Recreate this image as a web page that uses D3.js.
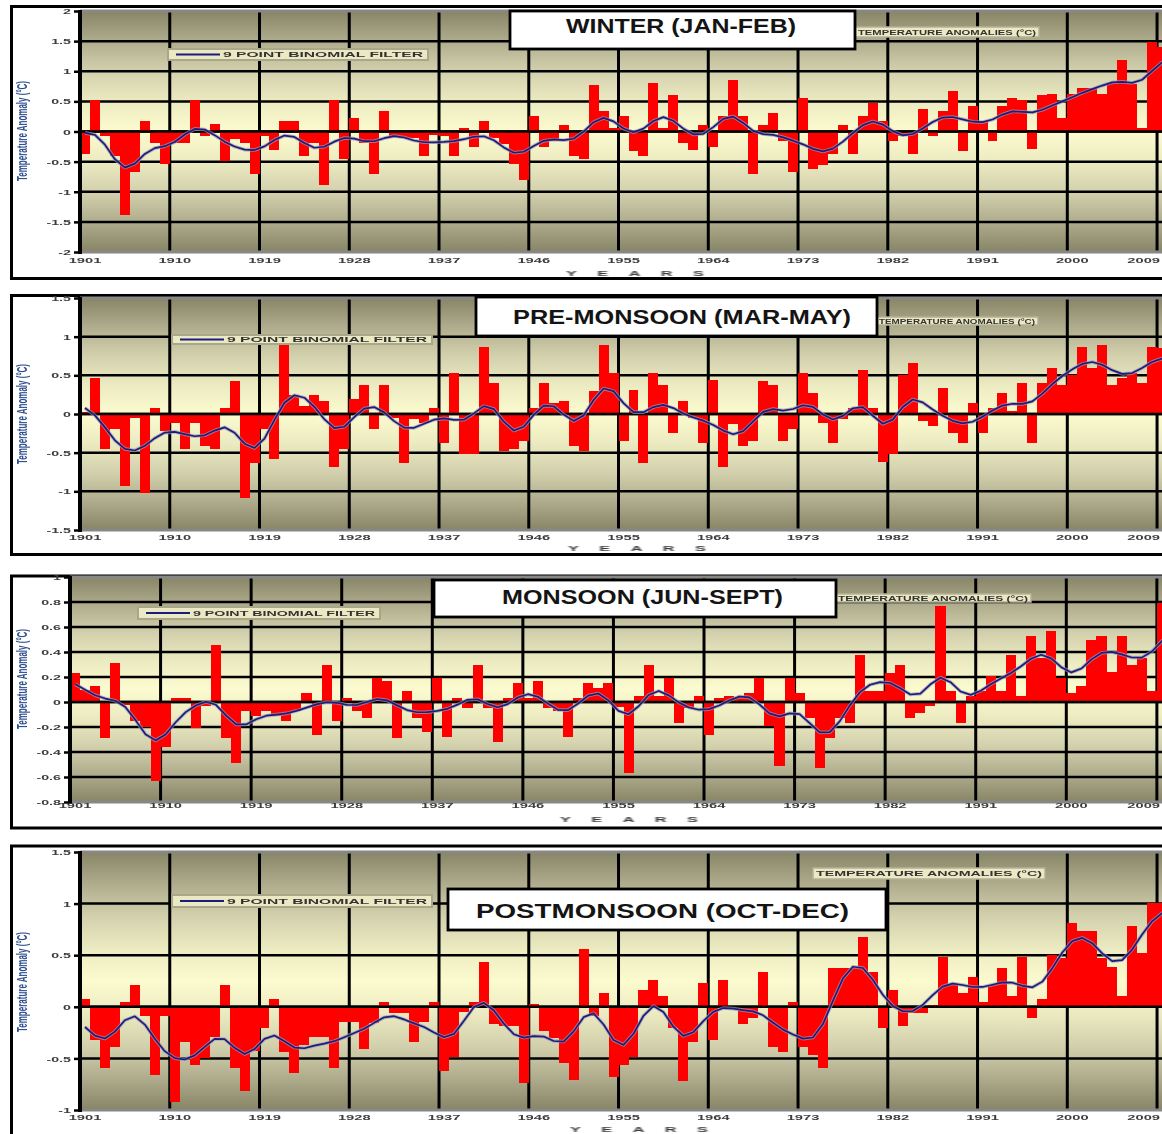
<!DOCTYPE html>
<html>
<head>
<meta charset="utf-8">
<script src="https://cdn.jsdelivr.net/npm/d3@7"></script>
<style>
  html, body { margin: 0; padding: 0; background: #fff; overflow: hidden; }
  svg { display: block; font-family: "Liberation Sans", Arial, sans-serif; }
</style>
</head>
<body>
<svg id="chart" width="1210" height="1134"></svg>
<script>
// Seasonal all-India temperature anomalies (°C), 1901–2010
const years = d3.range(1901, 2011);
const tickYears = [1901, 1910, 1919, 1928, 1937, 1946, 1955, 1964, 1973, 1982, 1991, 2000, 2009];

const winter = [
  -0.37, 0.52, -0.08, -0.41, -1.39, -0.67, 0.17, -0.19, -0.54, -0.19,
  -0.19, 0.52, -0.08, 0.13, -0.49, -0.12, -0.19, -0.71, -0.08, -0.30,
  0.17, 0.17, -0.41, -0.19, -0.89, 0.52, -0.45, 0.22, -0.19, -0.71,
  0.34, -0.08, -0.10, -0.10, -0.41, -0.05, -0.08, -0.41, 0.05, -0.25,
  0.17, -0.10, -0.20, -0.54, -0.80, 0.26, -0.25, -0.16, 0.10, -0.41,
  -0.46, 0.77, 0.34, 0.05, 0.26, -0.33, -0.41, 0.81, 0.05, 0.60,
  -0.19, -0.30, 0.10, -0.25, 0.26, 0.85, 0.26, -0.71, 0.10, 0.30,
  -0.16, -0.67, 0.55, -0.63, -0.55, -0.37, 0.10, -0.37, 0.26, 0.48,
  0.17, -0.16, -0.08, -0.37, 0.38, -0.08, 0.34, 0.68, -0.33, 0.42,
  0.17, -0.16, 0.42, 0.55, 0.52, -0.29, 0.60, 0.63, 0.22, 0.63,
  0.73, 0.73, 0.63, 0.80, 1.19, 0.79, 0.05, 1.48, 1.40, 1.10
];

const preMonsoon = [
  0.02, 0.47, -0.45, -0.19, -0.93, -0.05, -1.02, 0.08, -0.22, -0.12,
  -0.45, -0.12, -0.42, -0.45, 0.08, 0.43, -1.08, -0.64, -0.19, -0.58,
  0.89, 0.25, 0.10, 0.25, 0.17, -0.68, -0.45, 0.20, 0.37, -0.19,
  0.37, -0.05, -0.64, -0.07, -0.11, 0.08, -0.38, 0.53, -0.52, -0.52,
  0.87, 0.40, -0.48, -0.45, -0.35, 0.08, 0.40, 0.14, 0.17, -0.41,
  -0.48, 0.30, 0.89, 0.53, -0.35, 0.31, -0.64, 0.53, 0.37, -0.24,
  0.17, -0.05, -0.38, 0.44, -0.68, -0.13, -0.41, -0.35, 0.43, 0.37,
  -0.35, -0.19, 0.53, 0.27, -0.11, -0.38, -0.07, 0.08, 0.57, 0.08,
  -0.62, -0.52, 0.50, 0.66, -0.09, -0.15, 0.33, -0.25, -0.38, 0.14,
  -0.25, 0.08, 0.27, 0.04, 0.40, -0.38, 0.40, 0.60, 0.37, 0.50,
  0.86, 0.60, 0.89, 0.37, 0.47, 0.53, 0.40, 0.86, 0.85, 0.60
];

const monsoon = [
  0.23, 0.10, 0.13, -0.29, 0.31, -0.02, -0.15, -0.20, -0.63, -0.36,
  0.03, 0.03, -0.21, -0.03, 0.46, -0.29, -0.49, -0.07, -0.11, -0.07,
  -0.11, -0.15, -0.07, 0.07, -0.26, 0.30, -0.15, 0.03, -0.07, -0.13,
  0.19, 0.17, -0.29, 0.09, -0.13, -0.24, 0.19, -0.28, 0.03, -0.05,
  0.30, -0.05, -0.32, 0.03, 0.15, 0.03, 0.17, -0.05, -0.07, -0.28,
  0.03, 0.15, 0.11, 0.15, -0.04, -0.57, 0.05, 0.30, 0.05, 0.19,
  -0.17, -0.05, 0.05, -0.26, 0.03, 0.05, 0.03, 0.07, 0.19, -0.19,
  -0.51, 0.19, 0.07, -0.13, -0.53, -0.29, -0.13, -0.17, 0.38, 0.09,
  0.09, 0.23, 0.30, -0.13, -0.09, -0.03, 0.77, 0.09, -0.17, 0.05,
  0.09, 0.21, 0.09, 0.38, 0.05, 0.53, 0.35, 0.57, 0.19, 0.07,
  0.13, 0.50, 0.53, 0.24, 0.53, 0.30, 0.35, 0.09, 0.79, 0.60
];

const postMonsoon = [
  0.08, -0.32, -0.59, -0.39, 0.05, 0.21, -0.09, -0.66, -0.09, -0.92,
  -0.34, -0.56, -0.50, -0.29, 0.21, -0.59, -0.82, -0.43, -0.21, 0.08,
  -0.44, -0.64, -0.37, -0.29, -0.29, -0.59, -0.15, -0.15, -0.41, -0.16,
  0.05, -0.06, -0.06, -0.34, -0.15, 0.05, -0.62, -0.49, -0.05, 0.05,
  0.43, -0.17, -0.19, -0.19, -0.74, 0.03, -0.23, -0.30, -0.54, -0.71,
  0.56, -0.09, 0.13, -0.68, -0.56, -0.49, 0.16, 0.26, 0.10, -0.21,
  -0.72, -0.34, 0.23, -0.32, 0.26, -0.02, -0.17, -0.11, 0.34, -0.39,
  -0.44, 0.05, -0.39, -0.47, -0.59, 0.38, 0.38, 0.38, 0.68, 0.34,
  -0.21, 0.16, -0.19, -0.06, -0.06, 0.02, 0.48, 0.21, 0.13, 0.29,
  0.05, 0.21, 0.38, 0.10, 0.48, -0.11, 0.08, 0.50, 0.47, 0.81,
  0.73, 0.73, 0.47, 0.39, 0.10, 0.78, 0.52, 1.01, 1.01, 0.90
];

const winterTicks = [-2, -1.5, -1, -0.5, 0, 0.5, 1, 1.5, 2];
const preMonsoonTicks = [-1.5, -1, -0.5, 0, 0.5, 1, 1.5];
const monsoonTicks = [-0.8, -0.6, -0.4, -0.2, 0, 0.2, 0.4, 0.6, 0.8, 1];
const postMonsoonTicks = [-1, -0.5, 0, 0.5, 1, 1.5];

const titles = ["WINTER (JAN-FEB)", "PRE-MONSOON (MAR-MAY)", "MONSOON (JUN-SEPT)", "POSTMONSOON (OCT-DEC)"];
const filterLabel = "9 POINT BINOMIAL FILTER";
const barLabel = "TEMPERATURE ANOMALIES (°C)";
const yTitle = "Temperature Anomaly (°C)";
const xTitle = "YEARS";

// 9-point binomial smoothing, weights renormalised near the ends
const filterWeights = [1, 8, 28, 56, 70, 56, 28, 8, 1];
function binomialFilter(vals) {
  const h = (filterWeights.length - 1) / 2;
  return vals.map((_, i) => {
    let s = 0, w = 0;
    filterWeights.forEach((wk, k) => {
      const j = i + k - h;
      if (j >= 0 && j < vals.length) { s += wk * vals[j]; w += wk; }
    });
    return s / w;
  });
}

// visible page width; the last year label is kept inside it
const pageRight = 1160;

// Layout of the four stacked panels
const layout = [
  { values: winter, ticks: winterTicks, frameY: 6.5, frameH: 272, x0: 80, x1: 1177, y0: 11, y1: 252,
    box: [510, 11, 345, 38], boxText: [566, 33, 230, 21],
    leg1: [168, 49, 260, 11], leg2: [855, 27, 184, 10],
    xLabelY: 263, yearsX: 566, yearsY: 276, yTitleY: 131 },
  { values: preMonsoon, ticks: preMonsoonTicks, frameY: 295.5, frameH: 259, x0: 80, x1: 1177, y0: 298, y1: 530,
    box: [476, 297, 401, 39], boxText: [513, 324, 338, 21],
    leg1: [172, 335, 260, 9], leg2: [876, 317, 162, 8],
    xLabelY: 540, yearsX: 568, yearsY: 551, yTitleY: 414 },
  { values: monsoon, ticks: monsoonTicks, frameY: 576, frameH: 252, x0: 70, x1: 1177, y0: 577, y1: 802,
    box: [434, 580, 402, 37], boxText: [502, 604, 281, 20],
    leg1: [138, 607, 242, 12], leg2: [835, 594, 196, 8],
    xLabelY: 808, yearsX: 560, yearsY: 822, yTitleY: 679 },
  { values: postMonsoon, ticks: postMonsoonTicks, frameY: 846, frameH: 310, x0: 80, x1: 1177, y0: 852, y1: 1110,
    box: [448, 889, 438, 41], boxText: [476, 918, 373, 21],
    leg1: [172, 895, 260, 12], leg2: [813, 868, 232, 11],
    xLabelY: 1120, yearsX: 570, yearsY: 1132, yTitleY: 982 }
];

const svg = d3.select("#chart");
const defs = svg.append("defs");
const grad = defs.append("linearGradient").attr("id", "plotBg")
  .attr("x1", 0).attr("y1", 0).attr("x2", 0).attr("y2", 1);
[[0, "#878566"], [0.12, "#adab8b"], [0.25, "#d3d1ad"], [0.38, "#edebc1"], [0.5, "#fcfbcf"],
 [0.62, "#edebc1"], [0.75, "#d3d1ad"], [0.88, "#adab8b"], [1, "#878566"]]
  .forEach(([o, c]) => grad.append("stop").attr("offset", o).attr("stop-color", c));
defs.append("filter").attr("id", "soft").attr("x", "-10%").attr("y", "-50%").attr("width", "120%").attr("height", "200%")
  .append("feGaussianBlur").attr("stdDeviation", 0.35);

function drawPanel(p, title) {
  const g = svg.append("g");
  const x = d3.scaleBand().domain(years).range([p.x0, p.x1]).padding(0);
  const y = d3.scaleLinear().domain([p.ticks[0], p.ticks[p.ticks.length - 1]]).range([p.y1, p.y0]);
  const data = p.values.map((v, i) => ({ year: years[i], v }));
  const smooth = binomialFilter(p.values).map((v, i) => ({ year: years[i], v }));

  // outer frame
  g.append("rect").attr("x", 11.5).attr("y", p.frameY).attr("width", 1200).attr("height", p.frameH)
    .attr("fill", "#fff").attr("stroke", "#000").attr("stroke-width", 3);

  // plot area
  g.append("rect").attr("x", p.x0).attr("y", p.y0).attr("width", p.x1 - p.x0).attr("height", p.y1 - p.y0)
    .attr("fill", "url(#plotBg)");

  // gridlines
  g.append("g").selectAll("line").data(tickYears.slice(1)).join("line")
    .attr("x1", d => x(d)).attr("x2", d => x(d)).attr("y1", p.y0).attr("y2", p.y1)
    .attr("stroke", "#000").attr("stroke-width", 3);
  g.append("g").selectAll("line").data(p.ticks.slice(1, -1)).join("line")
    .attr("x1", p.x0).attr("x2", p.x1).attr("y1", d => y(d)).attr("y2", d => y(d))
    .attr("stroke", "#000").attr("stroke-width", 2.5);

  // anomaly bars
  g.append("g").attr("shape-rendering", "crispEdges").selectAll("rect").data(data).join("rect")
    .attr("x", d => x(d.year)).attr("width", x.bandwidth())
    .attr("y", d => Math.min(y(d.v), y(0))).attr("height", d => Math.abs(y(d.v) - y(0)))
    .attr("fill", "#ff0000");

  // zero line
  g.append("line").attr("x1", p.x0).attr("x2", p.x1).attr("y1", y(0)).attr("y2", y(0))
    .attr("stroke", "#000").attr("stroke-width", 2.5);

  // plot border (top / bottom)
  [p.y0, p.y1].forEach(yy => g.append("line").attr("x1", p.x0).attr("x2", p.x1).attr("y1", yy).attr("y2", yy)
    .attr("stroke", "#878787").attr("stroke-width", 3));

  // smoothed curve
  const line = d3.line().x(d => x(d.year) + x.bandwidth() / 2).y(d => y(d.v)).curve(d3.curveLinear);
  g.append("path").datum(smooth).attr("d", line).attr("fill", "none")
    .attr("stroke", "#9d9bb5").attr("stroke-width", 3.6).attr("stroke-opacity", 0.7).attr("stroke-linejoin", "round");
  g.append("path").datum(smooth).attr("d", line).attr("fill", "none")
    .attr("stroke", "#1d1b7c").attr("stroke-width", 1.7).attr("stroke-linejoin", "round");

  // value axis
  g.append("line").attr("x1", p.x0).attr("x2", p.x0).attr("y1", p.y0 - 1).attr("y2", p.y1 + 2)
    .attr("stroke", "#000").attr("stroke-width", 4);
  const ya = g.append("g").attr("transform", `translate(${p.x0},0)`)
    .call(d3.axisLeft(y).tickValues(p.ticks).tickSize(6).tickFormat(d => String(d)));
  ya.select(".domain").remove();
  ya.selectAll(".tick line").attr("stroke", "#000").attr("stroke-width", 2.5);
  ya.selectAll(".tick text").attr("x", 0).attr("dy", null).attr("font-size", 7.5)
    .attr("fill", "#3c3c3c").attr("font-weight", "bold").attr("text-anchor", "end")
    .attr("transform", "translate(-9,2.6) scale(1.9,1)").attr("filter", "url(#soft)");

  // year axis labels
  const xa = g.append("g").attr("transform", `translate(0,${p.y1})`)
    .call(d3.axisBottom(x).tickValues(tickYears).tickSize(0));
  xa.select(".domain").remove();
  xa.selectAll(".tick text").attr("y", 0).attr("dy", null).attr("font-size", 7)
    .attr("fill", "#3c3c3c").attr("font-weight", "bold").attr("text-anchor", "middle")
    .attr("transform", `translate(0,${p.xLabelY - p.y1}) scale(2.1,1)`).attr("filter", "url(#soft)");
  // last label right-aligned at the page edge
  const lastYear = tickYears[tickYears.length - 1];
  const lastX = x(lastYear) + x.bandwidth() / 2;
  xa.selectAll(".tick").filter(d => d === lastYear).select("text")
    .attr("text-anchor", "end")
    .attr("transform", `translate(${pageRight - lastX},${p.xLabelY - p.y1}) scale(2.1,1)`);

  // axis titles
  g.append("text").attr("transform", `translate(${p.yearsX},${p.yearsY}) scale(2.5,1)`)
    .attr("font-size", 6.5).attr("font-weight", "bold").attr("letter-spacing", 8.2)
    .attr("fill", "#3c3c3c").attr("filter", "url(#soft)").text(xTitle);
  g.append("text").attr("transform", `translate(27,${p.yTitleY}) scale(2,1) rotate(-90)`)
    .attr("text-anchor", "middle").attr("font-size", 7).attr("font-weight", "bold")
    .attr("fill", "#2f4f8f").attr("textLength", 100).attr("lengthAdjust", "spacingAndGlyphs")
    .attr("filter", "url(#soft)").text(yTitle);

  // legend: smoothing curve
  const [lx, ly, lw, lh] = p.leg1;
  g.append("rect").attr("x", lx).attr("y", ly).attr("width", lw).attr("height", lh)
    .attr("fill", "#ebe9c4").attr("stroke", "#a9a78a").attr("stroke-width", 2);
  g.append("line").attr("x1", lx + 8).attr("x2", lx + 52).attr("y1", ly + lh / 2).attr("y2", ly + lh / 2)
    .attr("stroke", "#1d1b7c").attr("stroke-width", 2.2);
  g.append("text").attr("x", lx + 55).attr("y", ly + lh / 2 + 2.5).attr("font-size", 7).attr("font-weight", "bold")
    .attr("fill", "#333").attr("textLength", lw - 60).attr("lengthAdjust", "spacingAndGlyphs")
    .attr("filter", "url(#soft)").text(filterLabel);

  // legend: anomaly bars
  const [bx, by, bw, bh] = p.leg2;
  g.append("rect").attr("x", bx).attr("y", by).attr("width", bw).attr("height", bh)
    .attr("fill", "#ebe9c4").attr("stroke", "#b3b196").attr("stroke-width", 1.5);
  g.append("text").attr("x", bx + 3).attr("y", by + bh / 2 + 2.5).attr("font-size", 7).attr("font-weight", "bold")
    .attr("fill", "#333").attr("textLength", bw - 6).attr("lengthAdjust", "spacingAndGlyphs")
    .attr("filter", "url(#soft)").text(barLabel);

  // season title
  const [tx, ty, tw, th] = p.box;
  g.append("rect").attr("x", tx).attr("y", ty).attr("width", tw).attr("height", th)
    .attr("fill", "#fff").attr("stroke", "#000").attr("stroke-width", 2.8);
  const [sx, sy, sw, fs] = p.boxText;
  g.append("text").attr("x", sx).attr("y", sy).attr("font-size", fs).attr("font-weight", "bold")
    .attr("fill", "#141414").attr("textLength", sw).attr("lengthAdjust", "spacingAndGlyphs").text(title);
}

layout.forEach((p, i) => drawPanel(p, titles[i]));
</script>
</body>
</html>
